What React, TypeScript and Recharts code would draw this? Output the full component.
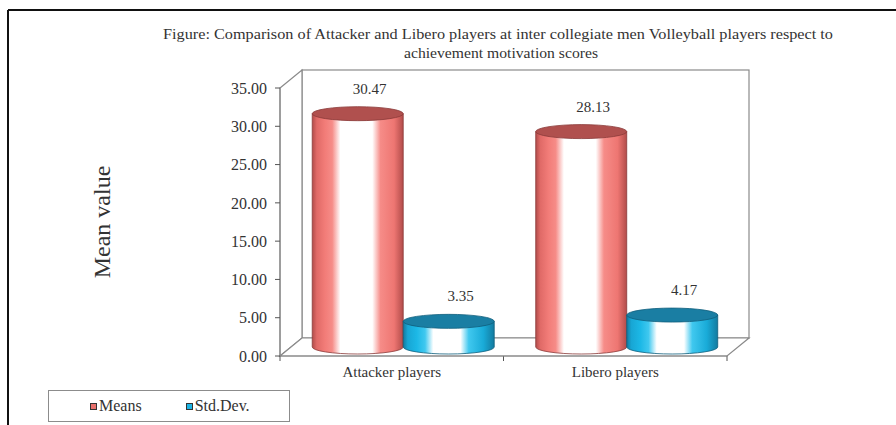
import { Bar, BarChart, LabelList, Legend, XAxis, YAxis } from "recharts";

const categories = ["Attacker players", "Libero players"];
const means = [30.47, 28.13];
const stdDevs = [3.35, 4.17];
const yTicks = [0, 5, 10, 15, 20, 25, 30, 35];

const data = categories.map((name, i) => ({ name, means: means[i], stdDev: stdDevs[i] }));

const W = 896;
const H = 425;
const MARGIN = { top: 88, right: 169, bottom: 39, left: 198 };
const Y_AXIS_W = 82;
const X_AXIS_H = 30;
const plot = {
  left: MARGIN.left + Y_AXIS_W,
  top: MARGIN.top,
  right: W - MARGIN.right,
  bottom: H - MARGIN.bottom - X_AXIS_H,
};
// depth of the 3D box; cylinders stand halfway into it
const DEPTH = { x: 22, y: -18 };
const MID = { x: DEPTH.x / 2, y: DEPTH.y / 2 };
const RY = 7;
const FONT = '"Liberation Serif", "Times New Roman", serif';
const GRID = "#8a8a8a";

function cylinder(gradId: string, topColor: string, edge: string) {
  return (props: any) => {
    const { x, y, width, height } = props;
    if (width == null || height == null) return null;
    const left = x + MID.x;
    const top = y + MID.y;
    const base = top + height;
    const rx = width / 2;
    return (
      <g>
        <path
          d={`M${left},${top} L${left},${base} A${rx},${RY} 0 0 0 ${left + width},${base} L${left + width},${top} Z`}
          fill={`url(#${gradId})`}
          stroke={edge}
          strokeWidth={0.8}
        />
        <ellipse cx={left + rx} cy={top} rx={rx} ry={RY} fill={topColor} stroke={edge} strokeWidth={0.8} />
      </g>
    );
  };
}

const MeansShape = cylinder("gradMeans", "#B0504E", "#8A3A38");
const StdShape = cylinder("gradStd", "#1A7EA3", "#0F5E7C");

function ValueLabel(props: any) {
  const { x, y, width, value } = props;
  return (
    <text
      x={x + width / 2 + MID.x + 12}
      y={y + MID.y - 20}
      textAnchor="middle"
      fontFamily={FONT}
      fontSize={15}
      fill="#333"
    >
      {Number(value).toFixed(2)}
    </text>
  );
}

function LegendBox({ payload }: any) {
  return (
    <div
      style={{
        width: 242,
        height: 32,
        boxSizing: "border-box",
        border: "1px solid #8c8c8c",
        display: "flex",
        alignItems: "center",
        paddingLeft: 41,
        fontFamily: FONT,
        fontSize: 16,
        color: "#333",
        background: "#fff",
      }}
    >
      {(payload || []).map((entry: any) => (
        <span key={entry.value} style={{ display: "inline-flex", alignItems: "center", marginRight: 44 }}>
          <span
            style={{
              width: 5,
              height: 5,
              background: entry.color,
              border: "1px solid #333",
              marginRight: 2,
            }}
          />
          {entry.value}
        </span>
      ))}
    </div>
  );
}

// frame, 3D walls, title and axis title behind the chart
function Backdrop() {
  const bx = plot.left + DEPTH.x;
  const by = plot.top + DEPTH.y;
  const bw = plot.right - plot.left;
  const bh = plot.bottom - plot.top;
  const band = bw / categories.length;
  const cx = 498;
  return (
    <svg width={W} height={H} style={{ position: "absolute", left: 0, top: 0 }}>
      <line x1={8} y1={10} x2={W} y2={10} stroke="#111" strokeWidth={2} />
      <line x1={8} y1={10} x2={8} y2={H} stroke="#111" strokeWidth={2} />
      <text x={cx} y={39} textAnchor="middle" fontFamily={FONT} fontSize={15} fill="#333" textLength={670} lengthAdjust="spacingAndGlyphs">
        Figure: Comparison of Attacker and Libero players at inter collegiate men Volleyball players respect to
      </text>
      <text x={cx + 3} y={58} textAnchor="middle" fontFamily={FONT} fontSize={15} fill="#333" textLength={194} lengthAdjust="spacingAndGlyphs">
        achievement motivation scores
      </text>
      <text
        transform={`translate(110, ${(plot.top + plot.bottom) / 2}) rotate(-90)`}
        textAnchor="middle"
        fontFamily={FONT}
        fontSize={24}
        fill="#333"
      >
        Mean value
      </text>
      <g fill="#fff" stroke={GRID} strokeWidth={1.2}>
        <rect x={bx} y={by} width={bw} height={bh} />
        <polygon points={`${plot.left},${plot.top} ${bx},${by} ${bx},${by + bh} ${plot.left},${plot.bottom}`} />
        <polygon
          points={`${plot.left},${plot.bottom} ${bx},${by + bh} ${bx + bw},${by + bh} ${plot.right},${plot.bottom}`}
        />
      </g>
      {[0, 1, 2].map((i) => (
        <line
          key={i}
          x1={plot.left + band * i}
          y1={plot.bottom}
          x2={plot.left + band * i}
          y2={plot.bottom + 5}
          stroke="#555"
          strokeWidth={1}
        />
      ))}
    </svg>
  );
}

export default function App() {
  return (
    <div style={{ position: "absolute", left: 0, top: 0, width: W, height: H, background: "#fff" }}>
      <Backdrop />
      <BarChart
        width={W}
        height={H}
        data={data}
        margin={MARGIN}
        barCategoryGap="9.5%"
        barGap={0}
        style={{ position: "absolute", left: 0, top: 0 }}
      >
        <defs>
          <linearGradient id="gradMeans" x1="0" y1="0" x2="1" y2="0">
            <stop offset="0" stopColor="#B24C4A" />
            <stop offset="0.05" stopColor="#E06A67" />
            <stop offset="0.14" stopColor="#F27C78" />
            <stop offset="0.22" stopColor="#F68C88" />
            <stop offset="0.31" stopColor="#FFFFFF" />
            <stop offset="0.66" stopColor="#FFFFFF" />
            <stop offset="0.75" stopColor="#F68C88" />
            <stop offset="0.9" stopColor="#EE7672" />
            <stop offset="1" stopColor="#B24C4A" />
          </linearGradient>
          <linearGradient id="gradStd" x1="0" y1="0" x2="1" y2="0">
            <stop offset="0" stopColor="#137A9F" />
            <stop offset="0.05" stopColor="#18A6D4" />
            <stop offset="0.15" stopColor="#1CB8E6" />
            <stop offset="0.24" stopColor="#40C8EF" />
            <stop offset="0.33" stopColor="#FFFFFF" />
            <stop offset="0.63" stopColor="#FFFFFF" />
            <stop offset="0.72" stopColor="#40C8EF" />
            <stop offset="0.88" stopColor="#19ABD8" />
            <stop offset="1" stopColor="#137BA0" />
          </linearGradient>
        </defs>
        <XAxis
          dataKey="name"
          height={X_AXIS_H}
          tickLine={false}
          axisLine={{ stroke: GRID, strokeWidth: 1.2 }}
          tickMargin={4}
          tick={{ fill: "#333", fontSize: 15, fontFamily: FONT }}
        />
        <YAxis
          width={Y_AXIS_W}
          domain={[0, 35]}
          ticks={yTicks}
          interval={0}
          tickFormatter={(v: number) => v.toFixed(2)}
          axisLine={{ stroke: GRID, strokeWidth: 1.2 }}
          tickLine={{ stroke: "#555" }}
          tickSize={5}
          tickMargin={8}
          tick={{ fill: "#333", fontSize: 16, fontFamily: FONT }}
        />
        <Legend
          layout="horizontal"
          verticalAlign="middle"
          content={<LegendBox />}
          wrapperStyle={{ left: 48, top: 390, width: 242, height: 32 }}
        />
        <Bar dataKey="means" name="Means" fill="#E8706C" shape={MeansShape} isAnimationActive={false}>
          <LabelList dataKey="means" content={ValueLabel} />
        </Bar>
        <Bar dataKey="stdDev" name="Std.Dev." fill="#1CB4E4" shape={StdShape} isAnimationActive={false}>
          <LabelList dataKey="stdDev" content={ValueLabel} />
        </Bar>
      </BarChart>
    </div>
  );
}
